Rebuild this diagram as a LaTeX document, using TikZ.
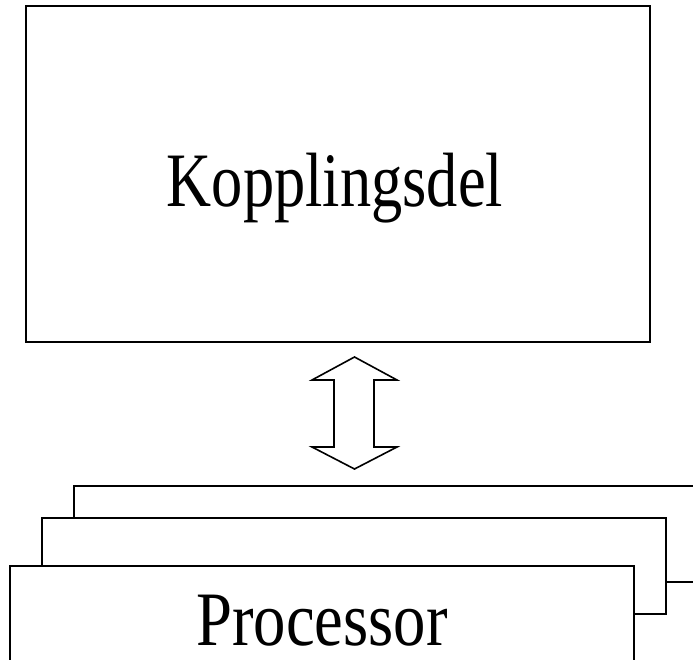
\documentclass[tikz,border=0pt]{standalone}
\usepackage{fontspec}
\setmainfont{Liberation Serif}
\begin{document}
\begin{tikzpicture}[x=1pt,y=-1pt,
  box/.style={draw=black,line width=2.6pt,fill=white,inner sep=0pt},
  big/.style={font=\fontsize{77}{90}\selectfont,inner sep=0pt,anchor=base},
  blockarrow/.style={draw=black,line width=1.6pt,fill=white,line join=miter}]
\clip (0,0) rectangle (693,660);
\fill[white] (0,0) rectangle (693,660);
% top box
\node[box,minimum width=624pt,minimum height=336pt] (koppling) at (338,174) {};
\node[big] (ktext) at (335,207) {\scalebox{0.81}[1]{Kopplingsdel}};
% stacked processor boxes
\node[box,minimum width=660pt,minimum height=96pt] (proc3) at (404,534) {};
\node[box,minimum width=624pt,minimum height=96pt] (proc2) at (354,566) {};
\node[box,minimum width=624pt,minimum height=130pt] (proc1) at (322,631) {};
\node[big] (ptext) at (322,645) {\scalebox{0.84}[1]{Processor}};
% double block arrow
\draw[blockarrow] (354.5,357) -- (397,380) -- (374,380) -- (374,447) -- (397,447)
  -- (354.5,469) -- (312,447) -- (334,447) -- (334,380) -- (312,380) -- cycle;
\end{tikzpicture}
\end{document}
